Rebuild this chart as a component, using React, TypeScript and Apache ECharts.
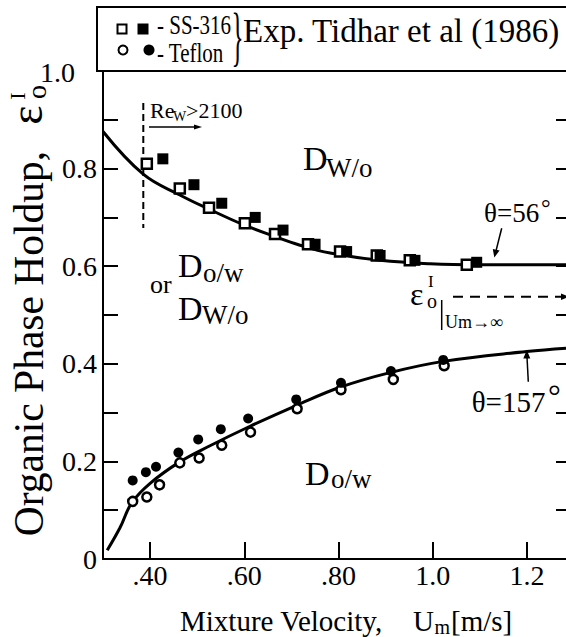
import React, { useEffect, useRef } from 'react';
import * as echarts from 'echarts';

const FONT = "'Liberation Serif', 'Times New Roman', serif";

// SS-316 (squares)
const ssOpenX = [0.393, 0.463, 0.525, 0.601, 0.665, 0.735, 0.803, 0.881, 0.951, 1.072];
const ssOpenY = [0.81, 0.759, 0.72, 0.688, 0.666, 0.645, 0.63, 0.622, 0.612, 0.603];
const ssFilledX = [0.427, 0.493, 0.552, 0.623, 0.682, 0.75, 0.817, 0.888, 0.962, 1.093];
const ssFilledY = [0.82, 0.767, 0.729, 0.70, 0.674, 0.645, 0.63, 0.622, 0.612, 0.608];

// Teflon (circles)
const tefOpenX = [0.363, 0.393, 0.42, 0.463, 0.504, 0.552, 0.613, 0.712, 0.805, 0.916, 1.024];
const tefOpenY = [0.118, 0.127, 0.152, 0.197, 0.207, 0.233, 0.26, 0.308, 0.347, 0.368, 0.396];
const tefFilledX = [0.363, 0.391, 0.4125, 0.46, 0.502, 0.55, 0.608, 0.71, 0.805, 0.911, 1.022];
const tefFilledY = [0.161, 0.178, 0.189, 0.218, 0.245, 0.266, 0.288, 0.327, 0.361, 0.385, 0.408];

// Model curves
const curve56X = [0.3, 0.386, 0.463, 0.527, 0.598, 0.661, 0.718, 0.782, 0.888, 0.994, 1.1, 1.2825];
const curve56Y = [0.876, 0.788, 0.746, 0.716, 0.685, 0.662, 0.643, 0.627, 0.612, 0.605, 0.603, 0.603];
const curve157X = [0.309, 0.336, 0.361, 0.4, 0.463, 0.527, 0.612, 0.711, 0.803, 0.909, 1.022, 1.199, 1.2825];
const curve157Y = [0.018, 0.064, 0.115, 0.155, 0.199, 0.232, 0.272, 0.315, 0.352, 0.382, 0.405, 0.425, 0.432];

// Axis ticks / labels
const xTickValues = [0.4, 0.6, 0.8, 1.0, 1.2];
const xTickLabels = ['.40', '.60', '.80', '1.0', '1.2'];
const yLabelValues = [0, 0.2, 0.4, 0.6, 0.8];
const yLabelTexts = ['0', '0.2', '0.4', '0.6', '0.8'];
const yTopLabel = '1.0';

const zip = (xs: number[], ys: number[]) => xs.map((x, i) => [x, ys[i]]);

function T(text: string, x: number, baseline: number, fs: number, align = 'left', extra: any = {}) {
  return {
    type: 'text',
    x,
    y: baseline - 0.3375 * fs,
    silent: true,
    ...extra,
    style: {
      text,
      fontSize: fs,
      fontFamily: FONT,
      fill: '#000',
      align,
      textAlign: align,
      verticalAlign: 'middle',
      textVerticalAlign: 'middle',
    },
  };
}

function R(text: string, cx: number, cy: number, fs: number) {
  return {
    type: 'text',
    x: cx,
    y: cy,
    rotation: Math.PI / 2,
    silent: true,
    style: {
      text,
      fontSize: fs,
      fontFamily: FONT,
      fill: '#000',
      align: 'center',
      textAlign: 'center',
      verticalAlign: 'middle',
      textVerticalAlign: 'middle',
    },
  };
}

const line = (x1: number, y1: number, x2: number, y2: number, w = 1.5, dash?: number[]) => ({
  type: 'line',
  silent: true,
  shape: { x1, y1, x2, y2 },
  style: { stroke: '#000', lineWidth: w, lineDash: dash },
});

const poly = (pts: number[][]) => ({
  type: 'polygon',
  silent: true,
  shape: { points: pts },
  style: { fill: '#000' },
});

const graphics: any[] = [
  // legend box
  { type: 'rect', silent: true, shape: { x: 97, y: 7, width: 500, height: 64 }, style: { fill: 'none', stroke: '#000', lineWidth: 2 } },
  { type: 'rect', silent: true, shape: { x: 117.5, y: 24.5, width: 9, height: 9 }, style: { fill: '#fff', stroke: '#000', lineWidth: 2 } },
  { type: 'rect', silent: true, shape: { x: 137.5, y: 23.5, width: 11, height: 11 }, style: { fill: '#000' } },
  { type: 'circle', silent: true, shape: { cx: 123, cy: 50, r: 4.5 }, style: { fill: '#fff', stroke: '#000', lineWidth: 2 } },
  { type: 'circle', silent: true, shape: { cx: 149, cy: 50, r: 5.5 }, style: { fill: '#000' } },
  T('- SS-316', 157, 32, 21, 'left', { scaleY: 1.25 }),
  T('- Teflon', 157, 60, 21, 'left', { scaleY: 1.25 }),
  T('}', 237.5, 58, 66, 'center', { scaleX: 0.38 }),
  T('Exp. Tidhar et al (1986)', 243, 42, 33),

  // y-axis top label (offset to the left as in the original)
  T(yTopLabel, 40, 81.5, 28),

  // Re_w > 2100
  line(143.3, 103, 143.3, 228, 2, [7, 4]),
  T('Re', 150, 118, 22),
  T('W', 173, 121, 14),
  T('>2100', 186, 118, 22),
  line(149, 127, 195, 127, 1.3),
  poly([[202, 127], [194, 124.5], [194, 129.5]]),

  // regime labels
  T('D', 303, 170, 34),
  T('W/o', 326, 177, 27),
  T('or', 150, 293, 26),
  T('D', 178, 277, 34),
  T('o/w', 203, 282, 27),
  T('D', 178, 320, 34),
  T('W/o', 202, 324, 27),
  T('D', 305, 485, 34),
  T('o/w', 331, 488, 27),

  // theta = 56
  T('θ=56', 484, 221.7, 27),
  T('°', 541, 216, 24),
  line(501.7, 228.3, 496.2, 250, 1.5),
  poly([[494.3, 257.5], [499.6, 250.6], [492.8, 248.9]]),

  // theta = 157
  T('θ=157', 471.7, 411.7, 29),
  T('°', 548, 406.6, 32),
  line(528.3, 381.7, 527, 357, 1.5),
  poly([[526.8, 350], [523.3, 358.5], [530.3, 358.5]]),

  // epsilon limit
  T('ε', 410, 305, 32),
  T('o', 427, 308, 20),
  T('I', 428, 287, 17),
  line(441.7, 300, 441.7, 330, 1.5),
  T('Um→∞', 445, 328, 18),
  line(453, 296.7, 562, 296.7, 2, [10, 7]),
  poly([[569, 296.7], [561, 293.5], [561, 299.9]]),

  // y-axis title
  R('Organic Phase Holdup,', 28.5, 343.5, 41.5),
  R('ε', 26.5, 115, 46),
  R('o', 36.5, 92, 28),
  R('I', 17, 96, 22),

  // x-axis title
  T('Mixture Velocity,', 180, 631, 29),
  T('U', 413, 631, 29),
  T('m', 434.5, 634, 20),
  T('[m/s]', 451, 631, 29),
];

const labelStyle = { fontSize: 28, fontFamily: FONT, color: '#000' };

const option: any = {
  animation: false,
  backgroundColor: '#fff',
  grid: { left: 103, right: 0, top: 71, bottom: 78, containLabel: false, outerBoundsMode: 'none' },
  xAxis: {
    type: 'value',
    min: 0.3,
    max: 1.2825,
    axisLine: { show: true, onZero: false, lineStyle: { color: '#000', width: 2 } },
    axisTick: { show: true, inside: true, length: 17, customValues: xTickValues, lineStyle: { color: '#000', width: 2 } },
    axisLabel: {
      ...labelStyle,
      margin: 2,
      customValues: xTickValues,
      formatter: (v: number) => {
        const i = xTickValues.findIndex((t) => Math.abs(t - v) < 1e-6);
        return i >= 0 ? xTickLabels[i] : '';
      },
    },
    splitLine: { show: false },
  },
  yAxis: [
    {
      type: 'value',
      position: 'left',
      min: 0,
      max: 1,
      interval: 0.1,
      axisLine: { show: true, onZero: false, lineStyle: { color: '#000', width: 2 } },
      axisTick: { show: true, inside: true, length: 15, lineStyle: { color: '#000', width: 2 } },
      axisLabel: {
        ...labelStyle,
        margin: 6,
        formatter: (v: number) => {
          const i = yLabelValues.findIndex((t) => Math.abs(t - v) < 1e-6);
          return i >= 0 ? yLabelTexts[i] : '';
        },
      },
      splitLine: { show: false },
    },
    {
      type: 'value',
      position: 'right',
      min: 0,
      max: 1,
      interval: 0.1,
      axisLine: { show: false },
      axisTick: { show: true, inside: true, length: 10, lineStyle: { color: '#000', width: 2 } },
      axisLabel: { show: false },
      splitLine: { show: false },
    },
  ],
  series: [
    {
      type: 'line',
      data: zip(curve56X, curve56Y),
      showSymbol: false,
      smooth: 0.4,
      lineStyle: { color: '#000', width: 3 },
      silent: true,
      z: 2,
    },
    {
      type: 'line',
      data: zip(curve157X, curve157Y),
      showSymbol: false,
      smooth: 0.4,
      lineStyle: { color: '#000', width: 3 },
      silent: true,
      z: 2,
    },
    {
      type: 'scatter',
      data: zip(ssOpenX, ssOpenY),
      symbol: 'rect',
      symbolSize: 10,
      itemStyle: { color: '#fff', borderColor: '#000', borderWidth: 2.5, opacity: 1 },
      z: 3,
    },
    {
      type: 'scatter',
      data: zip(ssFilledX, ssFilledY),
      symbol: 'rect',
      symbolSize: 11,
      itemStyle: { color: '#000', opacity: 1 },
      z: 4,
    },
    {
      type: 'scatter',
      data: zip(tefOpenX, tefOpenY),
      symbol: 'circle',
      symbolSize: 9,
      itemStyle: { color: '#fff', borderColor: '#000', borderWidth: 2.5, opacity: 1 },
      z: 3,
    },
    {
      type: 'scatter',
      data: zip(tefFilledX, tefFilledY),
      symbol: 'circle',
      symbolSize: 10,
      itemStyle: { color: '#000', opacity: 1 },
      z: 4,
    },
  ],
  graphic: { elements: graphics },
};

export default function App() {
  const ref = useRef<HTMLDivElement>(null);
  useEffect(() => {
    document.body.style.margin = '0';
    const chart = echarts.init(ref.current as HTMLDivElement, null, { renderer: 'svg' });
    chart.setOption(option);
    return () => chart.dispose();
  }, []);
  return <div ref={ref} style={{ width: 566, height: 637, background: '#fff' }} />;
}
